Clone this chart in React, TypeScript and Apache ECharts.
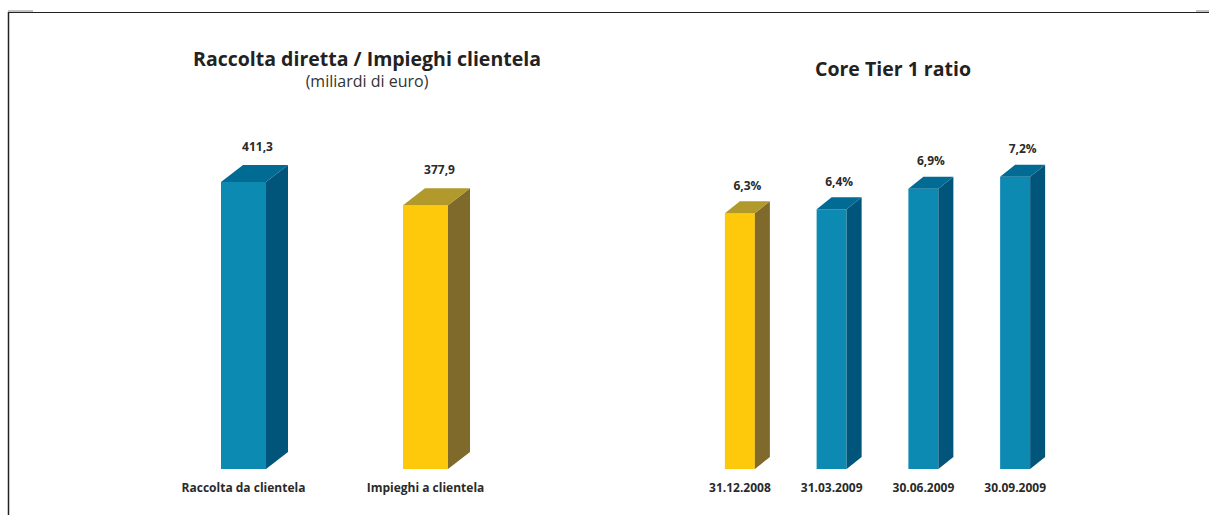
import React, { useEffect, useRef } from "react";
import * as echarts from "echarts";

const leftCategories = ["Raccolta da clientela", "Impieghi a clientela"];
const leftValues = [411.3, 377.9];
const rightCategories = ["31.12.2008", "31.03.2009", "30.06.2009", "30.09.2009"];
const rightValues = [6.3, 6.4, 6.9, 7.2];

const leftTitle = "Raccolta diretta / Impieghi clientela";
const leftSubtitle = "(miliardi di euro)";
const rightTitle = "Core Tier 1 ratio";

const BLUE = { front: "#0d8ab2", side: "#02557a", top: "#016b94" };
const YELLOW = { front: "#fec90b", side: "#7f6a2b", top: "#b1992b" };

const leftPalette = [BLUE, YELLOW];
const rightPalette = [YELLOW, BLUE, BLUE, BLUE];

const FONT = "'Open Sans', 'Noto Sans', sans-serif";

function fmt(v: number, suffix: string) {
  return v.toFixed(1).replace(".", ",") + suffix;
}

function make3D(palette: any[], w: number, dx: number, dy: number, suffix: string, labelGap: number, labelShift: number) {
  return (params: any, api: any) => {
    const idx = params.dataIndex;
    const val = api.value(1);
    const top = api.coord([api.value(0), val]);
    const base = api.coord([api.value(0), 0]);
    const cx = top[0];
    const x0 = cx - w / 2;
    const x1 = cx + w / 2;
    const yt = top[1];
    const yb = base[1];
    const p = palette[idx];
    return {
      type: "group",
      children: [
        {
          type: "rect",
          shape: { x: x0, y: yt, width: w, height: yb - yt },
          style: { fill: p.front },
        },
        {
          type: "polygon",
          shape: { points: [[x1, yt], [x1 + dx, yt - dy], [x1 + dx, yb - dy], [x1, yb]] },
          style: { fill: p.side },
        },
        {
          type: "polygon",
          shape: { points: [[x0, yt], [x0 + dx, yt - dy], [x1 + dx, yt - dy], [x1, yt]] },
          style: { fill: p.top },
        },
        {
          type: "text",
          style: {
            text: fmt(val, suffix),
            x: cx + dx / 2 + labelShift,
            y: yt - dy - labelGap,
            align: "center",
            verticalAlign: "middle",
            font: `bold 12px ${FONT}`,
            fill: "#2a2a2a",
          },
        },
      ],
    };
  };
}

export default function App() {
  const ref = useRef<HTMLDivElement>(null);
  useEffect(() => {
    document.body.style.margin = "0";
    const chart = echarts.init(ref.current!, undefined, { renderer: "svg" });
    const axisLabel = {
      color: "#2a2a2a",
      fontFamily: FONT,
      fontWeight: "bold" as const,
      fontSize: 12,
      margin: 12,
    };
    chart.setOption({
      animation: false,
      backgroundColor: "#ffffff",
      title: [
        {
          text: leftTitle,
          subtext: leftSubtitle,
          left: 362,
          top: 43,
          textAlign: "center",
          itemGap: 5,
          textStyle: { fontFamily: FONT, fontWeight: "bold", fontSize: 19.5, color: "#222" },
          subtextStyle: { fontFamily: FONT, fontSize: 16, color: "#333" },
        },
        {
          text: rightTitle,
          left: 888,
          top: 53,
          textAlign: "center",
          textStyle: { fontFamily: FONT, fontWeight: "bold", fontSize: 19.5, color: "#222" },
        },
      ],
      grid: [
        { left: 152.5, width: 364, top: 469 - (600 * 287) / 411.3, bottom: 515 - 469 },
        { left: 694, width: 367, top: 469 - 10 * 40.6, bottom: 515 - 469 },
      ],
      xAxis: [
        {
          type: "category",
          gridIndex: 0,
          data: leftCategories,
          axisLine: { show: false },
          axisTick: { show: false },
          axisLabel,
        },
        {
          type: "category",
          gridIndex: 1,
          data: rightCategories,
          axisLine: { show: false },
          axisTick: { show: false },
          axisLabel,
        },
      ],
      yAxis: [
        { type: "value", gridIndex: 0, min: 0, max: 600, show: false, splitLine: { show: false } },
        { type: "value", gridIndex: 1, min: 0, max: 10, show: false, splitLine: { show: false } },
      ],
      series: [
        {
          type: "custom",
          xAxisIndex: 0,
          yAxisIndex: 0,
          renderItem: make3D(leftPalette, 45, 22, 17, "", 19, 3),
          data: leftValues.map((v, i) => [i, v]),
        },
        {
          type: "custom",
          xAxisIndex: 1,
          yAxisIndex: 1,
          renderItem: make3D(rightPalette, 30, 15, 12, "%", 16, 0),
          data: rightValues.map((v, i) => [i, v]),
        },
      ],
      graphic: [
        { type: "line", shape: { x1: 8, y1: 12.5, x2: 1209, y2: 12.5 }, style: { stroke: "#222", lineWidth: 1.2 } },
        { type: "line", shape: { x1: 8.5, y1: 12, x2: 8.5, y2: 515 }, style: { stroke: "#222", lineWidth: 1.5 } },
        { type: "line", shape: { x1: 8, y1: 11, x2: 33, y2: 11 }, style: { stroke: "#888", lineWidth: 1 } },
        { type: "line", shape: { x1: 1196, y1: 11, x2: 1209, y2: 11 }, style: { stroke: "#888", lineWidth: 1 } },
      ],
    });
    return () => chart.dispose();
  }, []);
  return <div ref={ref} style={{ position: "absolute", left: 0, top: 0, width: 1209, height: 515 }} />;
}
